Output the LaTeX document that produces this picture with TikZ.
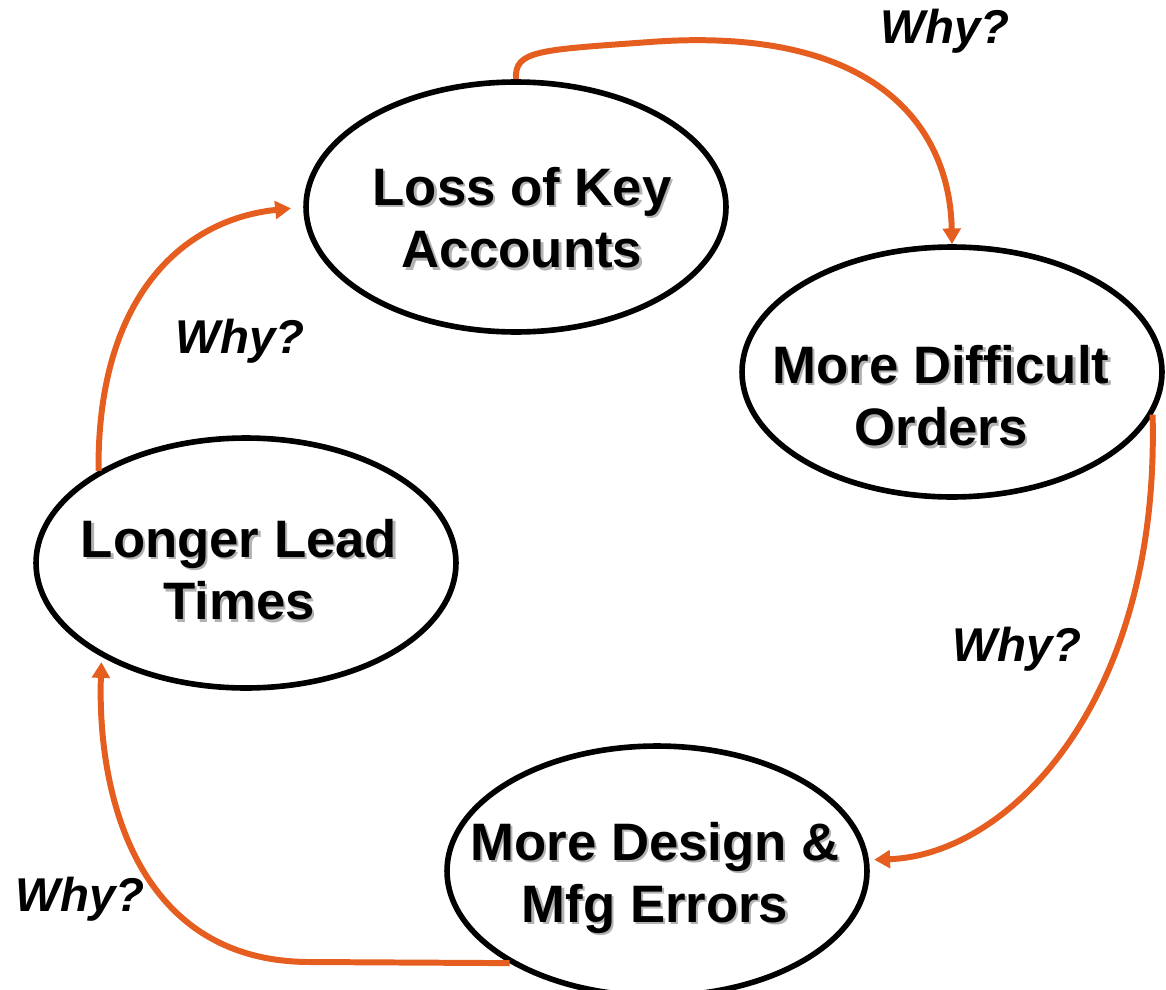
\documentclass[tikz,border=0pt]{standalone}
\usepackage{fontspec}
\setmainfont{Liberation Sans}
\usetikzlibrary{shapes.geometric,arrows.meta}

\definecolor{loopor}{RGB}{229,94,32}
\newcommand\shd[1]{\rlap{\hspace{1.3pt}\raisebox{-1.3pt}{\color{black!30}#1}}#1}

\begin{document}
\begin{tikzpicture}[x=0.02cm,y=-0.02cm,
  cyc/.style={draw, ellipse, line width=3.2pt, minimum width=8.4cm, minimum height=5cm, inner sep=0},
  lbl/.style={align=center, font=\fontsize{30}{35.5}\selectfont\bfseries},
  why/.style={font=\fontsize{27}{30}\selectfont\bfseries\itshape},
  loop/.style={draw=loopor, line width=3.4pt, -{Triangle[length=9pt,width=10pt]}}]

\useasboundingbox (0,0) rectangle (1166,990);

\node[cyc] (loss) at (516,207) {};
\node[cyc] (diff) at (952,372) {};
\node[cyc] (lead) at (246,563) {};
\node[cyc] (design) at (657,871) {};

\node[lbl] at (522,219) {\shd{Loss of Key}\\\shd{Accounts}};
\node[lbl] at (941,397) {\shd{More Difficult}\\\shd{Orders}};
\node[lbl] at (239,571) {\shd{Longer Lead}\\\shd{Times}};
\node[lbl] at (655,879) {\shd{More Design \&}\\\shd{Mfg Errors}};

\node[why] (w1) at (945,31) {Why?};
\node[why] (w2) at (240,341) {Why?};
\node[why] (w3) at (1017,649) {Why?};
\node[why] (w4) at (80,899) {Why?};

% the loop of causes
\draw[loop] (loss.north) .. controls (514,50) and (540,50) .. (650,42)
  .. controls (880,25) and (950,130) .. (diff.north);
\draw[loop, shorten >=3pt] (diff.-12) .. controls (1160,700) and (1010,855) .. (design.3);
\draw[loop, shorten >=3pt] (design.212) -- (310,962) .. controls (140,962) and (97,800) .. (lead.213);
\draw[loop, shorten >=7pt] (lead.148) .. controls (97,300) and (180,220) .. (loss.west);
\end{tikzpicture}
\end{document}
